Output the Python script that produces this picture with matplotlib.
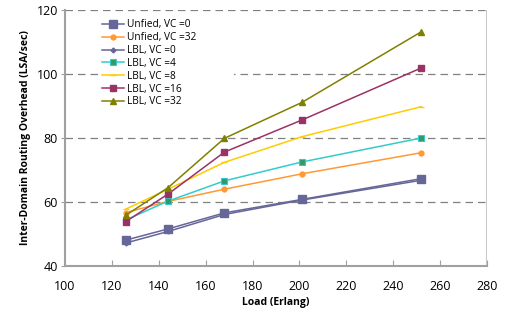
import matplotlib
matplotlib.use("Agg")
import matplotlib.pyplot as plt

x = [126, 144, 168, 201, 252]
labels = ["Unfied, VC =0", "Unfied, VC =32", "LBL, VC =0", "LBL, VC =4",
          "LBL, VC =8", "LBL, VC =16", "LBL, VC =32"]
unified_vc0 = [48.1, 51.6, 56.6, 60.8, 67.3]
unified_vc32 = [56.7, 60.2, 64.0, 68.8, 75.4]
lbl_vc0 = [47.2, 50.8, 56.1, 60.6, 66.8]
lbl_vc4 = [54.4, 60.3, 66.6, 72.5, 80.0]
lbl_vc8 = [57.8, 64.0, 72.4, 80.4, 89.8]
lbl_vc16 = [53.9, 62.5, 75.6, 85.6, 101.9]
lbl_vc32 = [55.9, 64.5, 79.9, 91.1, 113.2]

plt.rcParams['font.family'] = ['Open Sans', 'DejaVu Sans']

fig = plt.figure(figsize=(5.06, 3.2), dpi=100)
ax = fig.add_axes([65/506, 1-266/320, 422/506, 256/320])

styles = [
    (unified_vc0, dict(color='#666699', marker='s', ms=6, mfc='#666699', mec='#666699')),
    (unified_vc32, dict(color='#FF9933', marker='o', ms=3.5, mfc='#FF9933', mec='#FF9933')),
    (lbl_vc0, dict(color='#666699', marker='D', ms=2.5, mfc='#666699', mec='#666699')),
    (lbl_vc4, dict(color='#33CCCC', marker='s', ms=5, mfc='#339966', mec='#33CCCC', mew=0.8)),
    (lbl_vc8, dict(color='#FFCC00', marker='_', ms=5, mfc='#FFCC00', mec='#FFCC00')),
    (lbl_vc16, dict(color='#993366', marker='s', ms=4, mfc='#993366', mec='#993366')),
    (lbl_vc32, dict(color='#808000', marker='^', ms=4.5, mfc='#808000', mec='#808000')),
]
for (ys, st), lab in zip(styles, labels):
    ax.plot(x, ys, lw=1.1, label=lab, **st)

ax.set_xlim(100, 280)
ax.set_ylim(40, 120)
ax.set_xticks(range(100, 281, 20))
ax.set_yticks(range(40, 121, 20))
for yv in [60, 80, 100, 120]:
    ax.axhline(yv, color='#808080', lw=0.9, ls=(0, (6, 4)), zorder=0)

for s in ['top', 'right']:
    ax.spines[s].set_visible(False)
for s in ['left', 'bottom']:
    ax.spines[s].set_color('#a0a0a0')
    ax.spines[s].set_linewidth(1.5)
ax.axvline(280, color='#c8c8c8', lw=1.5)
ax.tick_params(axis='x', direction='in', length=4, color='#a0a0a0', labelsize=9, pad=10)
ax.tick_params(axis='y', direction='out', length=3, color='#a0a0a0', labelsize=9, pad=2)

ax.set_xlabel('Load (Erlang)', fontsize=7.5, fontweight='bold', labelpad=3)
ax.set_ylabel('Inter-Domain Routing Overhead (LSA/sec)', fontsize=7.5, fontweight='bold', labelpad=4)

leg = ax.legend(loc='upper left', bbox_to_anchor=(0.08, 0.6, 0.32, 0.375), mode='expand',
                fontsize=7.3, frameon=True, facecolor='white', edgecolor='none', framealpha=1,
                fancybox=False, handlelength=2.2, handletextpad=0.3, labelspacing=0.18,
                borderaxespad=0, borderpad=0.3)

fig.savefig('out.png', dpi=100)
